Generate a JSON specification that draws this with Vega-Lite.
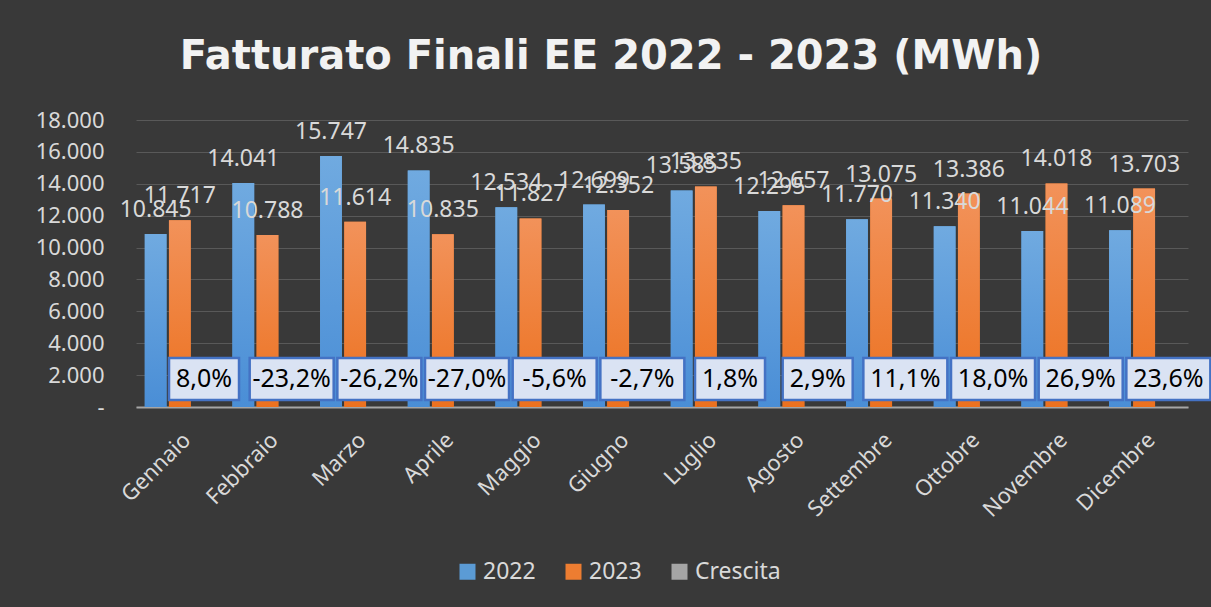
{
  "$schema": "https://vega.github.io/schema/vega-lite/v6.json",
  "width": 1052,
  "height": 287,
  "autosize": {"type": "none"},
  "padding": {"left": 136, "top": 120, "right": 23, "bottom": 200},
  "background": "#393939",
  "title": {
    "text": "Fatturato Finali EE 2022 - 2023 (MWh)",
    "font": "DejaVu Sans",
    "fontSize": 40,
    "fontWeight": "bold",
    "color": "#f2f2f2",
    "anchor": "middle",
    "dx": -51,
    "offset": 32
  },
  "config": {
    "locale": {"number": {"decimal": ",", "thousands": ".", "grouping": [3], "currency": ["€", ""]}},
    "view": {"stroke": null},
    "font": "Noto Sans",
    "axisY": {
      "tickCount": 12,
      "labelFontSize": 22,
      "labelColor": "#d9d9d9",
      "labelPadding": 32,
      "labelOverlap": false,
      "labelBound": false,
      "labelFlush": false,
      "ticks": false,
      "domain": false,
      "gridColor": "#595959",
      "gridWidth": 1,
      "title": null
    }
  },
  "data": {
    "values": [
      {"mese": "Gennaio", "serie": "2022", "valore": 10845, "crescita": ""},
      {"mese": "Gennaio", "serie": "2023", "valore": 11717, "crescita": ""},
      {"mese": "Gennaio", "serie": "Crescita", "valore": 0, "crescita": "8,0%"},
      {"mese": "Febbraio", "serie": "2022", "valore": 14041, "crescita": ""},
      {"mese": "Febbraio", "serie": "2023", "valore": 10788, "crescita": ""},
      {"mese": "Febbraio", "serie": "Crescita", "valore": 0, "crescita": "-23,2%"},
      {"mese": "Marzo", "serie": "2022", "valore": 15747, "crescita": ""},
      {"mese": "Marzo", "serie": "2023", "valore": 11614, "crescita": ""},
      {"mese": "Marzo", "serie": "Crescita", "valore": 0, "crescita": "-26,2%"},
      {"mese": "Aprile", "serie": "2022", "valore": 14835, "crescita": ""},
      {"mese": "Aprile", "serie": "2023", "valore": 10835, "crescita": ""},
      {"mese": "Aprile", "serie": "Crescita", "valore": 0, "crescita": "-27,0%"},
      {"mese": "Maggio", "serie": "2022", "valore": 12534, "crescita": ""},
      {"mese": "Maggio", "serie": "2023", "valore": 11827, "crescita": ""},
      {"mese": "Maggio", "serie": "Crescita", "valore": 0, "crescita": "-5,6%"},
      {"mese": "Giugno", "serie": "2022", "valore": 12699, "crescita": ""},
      {"mese": "Giugno", "serie": "2023", "valore": 12352, "crescita": ""},
      {"mese": "Giugno", "serie": "Crescita", "valore": 0, "crescita": "-2,7%"},
      {"mese": "Luglio", "serie": "2022", "valore": 13585, "crescita": ""},
      {"mese": "Luglio", "serie": "2023", "valore": 13835, "crescita": ""},
      {"mese": "Luglio", "serie": "Crescita", "valore": 0, "crescita": "1,8%"},
      {"mese": "Agosto", "serie": "2022", "valore": 12295, "crescita": ""},
      {"mese": "Agosto", "serie": "2023", "valore": 12657, "crescita": ""},
      {"mese": "Agosto", "serie": "Crescita", "valore": 0, "crescita": "2,9%"},
      {"mese": "Settembre", "serie": "2022", "valore": 11770, "crescita": ""},
      {"mese": "Settembre", "serie": "2023", "valore": 13075, "crescita": ""},
      {"mese": "Settembre", "serie": "Crescita", "valore": 0, "crescita": "11,1%"},
      {"mese": "Ottobre", "serie": "2022", "valore": 11340, "crescita": ""},
      {"mese": "Ottobre", "serie": "2023", "valore": 13386, "crescita": ""},
      {"mese": "Ottobre", "serie": "Crescita", "valore": 0, "crescita": "18,0%"},
      {"mese": "Novembre", "serie": "2022", "valore": 11044, "crescita": ""},
      {"mese": "Novembre", "serie": "2023", "valore": 14018, "crescita": ""},
      {"mese": "Novembre", "serie": "Crescita", "valore": 0, "crescita": "26,9%"},
      {"mese": "Dicembre", "serie": "2022", "valore": 11089, "crescita": ""},
      {"mese": "Dicembre", "serie": "2023", "valore": 13703, "crescita": ""},
      {"mese": "Dicembre", "serie": "Crescita", "valore": 0, "crescita": "23,6%"}
    ]
  },
  "encoding": {
    "x": {
      "field": "mese",
      "type": "nominal",
      "sort": null,
      "scale": {"paddingInner": 0.2, "paddingOuter": 0.1},
      "axis": {
        "title": null,
        "labelAngle": -45,
        "labelAlign": "right",
        "labelBaseline": "top",
        "labelFontSize": 22,
        "labelColor": "#d9d9d9",
        "labelPadding": 22,
        "labelOverlap": false,
        "ticks": false,
        "domainColor": "#a6a6a6",
        "domainWidth": 2,
        "grid": false
      }
    },
    "xOffset": {
      "field": "serie",
      "type": "nominal",
      "scale": {"domain": ["2022", "2023", "Crescita"], "paddingInner": 0.1}
    }
  },
  "layer": [
    {
      "mark": {"type": "bar"},
      "encoding": {
        "y": {
          "field": "valore",
          "type": "quantitative",
          "scale": {"domain": [0, 18000], "nice": false},
          "axis": {
            "values": [0, 2000, 4000, 6000, 8000, 10000, 12000, 14000, 16000, 18000],
            "tickCount": 12,
            "format": ",d",
            "labelExpr": "datum.value === 0 ? '-' : datum.label"
          }
        },
        "color": {
          "field": "serie",
          "type": "nominal",
          "scale": {"domain": ["2022", "2023", "Crescita"], "range": ["#5b9bd5", "#ed7d31", "#a5a5a5"]},
          "legend": {
            "title": null,
            "orient": "none",
            "direction": "horizontal",
            "legendX": 320,
            "legendY": 440,
            "symbolType": "square",
            "symbolSize": 256,
            "symbolStrokeWidth": 0,
            "labelFontSize": 23,
            "labelColor": "#d9d9d9",
            "columnPadding": 26,
            "labelOffset": 4
          }
        }
      }
    },
    {
      "transform": [{"filter": "datum.serie === '2022'"}],
      "mark": {
        "type": "bar",
        "color": {
          "gradient": "linear", "x1": 0, "y1": 0, "x2": 0, "y2": 1,
          "stops": [{"offset": 0, "color": "#70aae0"}, {"offset": 1, "color": "#4a8ed6"}]
        }
      },
      "encoding": {"y": {"field": "valore", "type": "quantitative"}}
    },
    {
      "transform": [{"filter": "datum.serie === '2023'"}],
      "mark": {
        "type": "bar",
        "color": {
          "gradient": "linear", "x1": 0, "y1": 0, "x2": 0, "y2": 1,
          "stops": [{"offset": 0, "color": "#f2925a"}, {"offset": 1, "color": "#ec711f"}]
        }
      },
      "encoding": {"y": {"field": "valore", "type": "quantitative"}}
    },
    {
      "transform": [{"filter": "datum.serie !== 'Crescita'"}],
      "mark": {"type": "text", "fontSize": 23, "color": "#d9d9d9", "baseline": "alphabetic", "dy": -17},
      "encoding": {
        "y": {"field": "valore", "type": "quantitative"},
        "text": {"field": "valore", "type": "quantitative", "format": ",d"}
      }
    },
    {
      "transform": [{"filter": "datum.serie === 'Crescita' && length(datum.crescita) <= 4"}],
      "mark": {"type": "bar", "width": 70, "fill": "#dae3f3", "stroke": "#4472c4", "strokeWidth": 2.5},
      "encoding": {
        "y": {"datum": 440, "type": "quantitative"},
        "y2": {"datum": 3070}
      }
    },
    {
      "transform": [{"filter": "datum.serie === 'Crescita' && length(datum.crescita) > 4"}],
      "mark": {"type": "bar", "width": 84, "fill": "#dae3f3", "stroke": "#4472c4", "strokeWidth": 2.5},
      "encoding": {
        "y": {"datum": 440, "type": "quantitative"},
        "y2": {"datum": 3070}
      }
    },
    {
      "transform": [{"filter": "datum.serie === 'Crescita'"}],
      "mark": {"type": "text", "fontSize": 25, "color": "#000000", "baseline": "middle"},
      "encoding": {
        "y": {"datum": 1756, "type": "quantitative"},
        "text": {"field": "crescita", "type": "nominal"}
      }
    }
  ]
}
